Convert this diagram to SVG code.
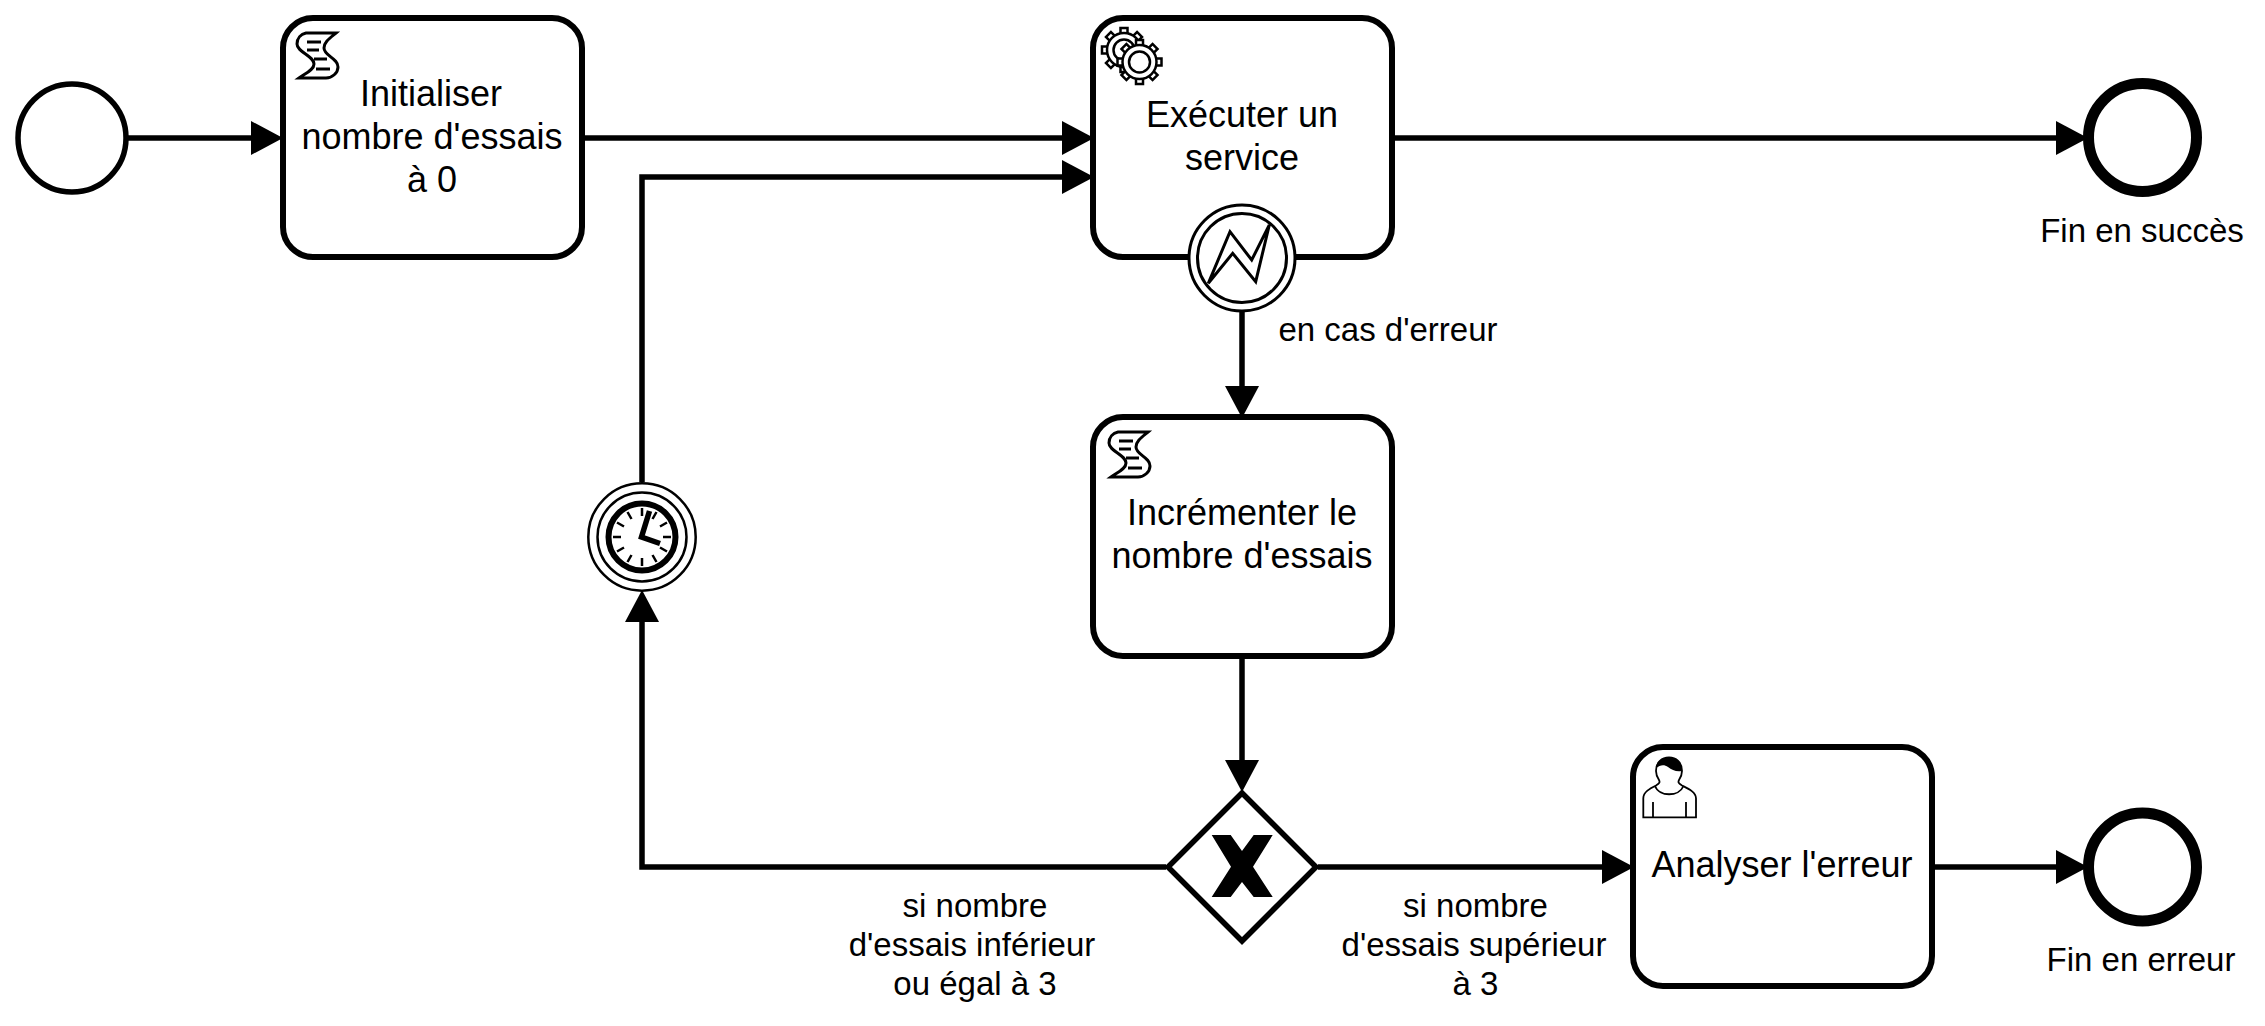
<svg xmlns="http://www.w3.org/2000/svg" xmlns:xlink="http://www.w3.org/1999/xlink" width="2265" height="1026" viewBox="0 0 2265 1026">
<style>
text{font-family:"Liberation Sans",Arial,sans-serif;fill:#000;text-anchor:middle}
.t{font-size:36px}
.l{font-size:33px}
.task{fill:#fff;stroke:#000;stroke-width:6}
.flow{fill:none;stroke:#000;stroke-width:5.5}
.thin{fill:#fff;stroke:#000;stroke-width:3}
.ln{fill:none;stroke:#000;stroke-width:3}
</style>
<defs>
<marker id="arrow" markerUnits="userSpaceOnUse" markerWidth="34" markerHeight="36" viewBox="0 0 34 36" refX="20" refY="18" orient="auto">
<path d="M0 1 L32 18 L0 35 Z" fill="#000"/>
</marker>
<g id="script">
<path class="thin" d="M306 33H336C330 38 324 42 324 48C324 56 338 58 338 67C338 73 332 78 326 78H299C306 73 314 70 314 64C314 56 297 52 297 44C297 38 301 34 306 33Z"/>
<path class="ln" d="M307 42H321M307 50H319M314 59H327M316 69H330"/>
</g>
<rect id="tooth" x="-3.5" y="-22" width="7" height="10" fill="#fff" stroke="#000" stroke-width="2.5"/>
<g id="gear">
<use xlink:href="#tooth" href="#tooth"/>
<use xlink:href="#tooth" href="#tooth" transform="rotate(45)"/>
<use xlink:href="#tooth" href="#tooth" transform="rotate(90)"/>
<use xlink:href="#tooth" href="#tooth" transform="rotate(135)"/>
<use xlink:href="#tooth" href="#tooth" transform="rotate(180)"/>
<use xlink:href="#tooth" href="#tooth" transform="rotate(225)"/>
<use xlink:href="#tooth" href="#tooth" transform="rotate(270)"/>
<use xlink:href="#tooth" href="#tooth" transform="rotate(315)"/>
<circle r="17" fill="#fff" stroke="#000" stroke-width="2.5"/>
<circle r="10.5" fill="#fff" stroke="#000" stroke-width="2.5"/>
</g>
</defs>

<g id="connectors">
<path class="flow" marker-end="url(#arrow)" d="M128 138H271"/>
<path class="flow" marker-end="url(#arrow)" d="M584 138H1082"/>
<path class="flow" marker-end="url(#arrow)" d="M642 482V177H1082"/>
<path class="flow" marker-end="url(#arrow)" d="M1395 138H2076"/>
<path class="flow" marker-end="url(#arrow)" d="M1242 312V406"/>
<path class="flow" marker-end="url(#arrow)" d="M1242 659V780"/>
<path class="flow" marker-end="url(#arrow)" d="M1166 867H642V602"/>
<path class="flow" marker-end="url(#arrow)" d="M1318 867H1622"/>
<path class="flow" marker-end="url(#arrow)" d="M1935 867H2076"/>
<text class="l" x="1388" y="341">en cas d'erreur</text>
<text class="l"><tspan x="975" y="917">si nombre</tspan><tspan x="972" y="956">d'essais inférieur</tspan><tspan x="975" y="995">ou égal à 3</tspan></text>
<text class="l"><tspan x="1475.500" y="917">si nombre</tspan><tspan x="1474" y="956">d'essais supérieur</tspan><tspan x="1475.500" y="995">à 3</tspan></text>
</g>

<g id="start">
<circle cx="72" cy="138" r="54" fill="#fff" stroke="#000" stroke-width="5.5"/>
</g>

<g id="task-init">
<rect class="task" x="283" y="18" width="299" height="239" rx="30"/>
<use xlink:href="#script" href="#script"/>
<text class="t"><tspan x="431" y="106">Initialiser</tspan><tspan x="432" y="149">nombre d'essais</tspan><tspan x="432" y="192">à 0</tspan></text>
</g>

<g id="task-service">
<rect class="task" x="1093" y="18" width="299" height="239" rx="30"/>
<use xlink:href="#gear" href="#gear" x="1124" y="50"/>
<use xlink:href="#gear" href="#gear" x="1139.5" y="62"/>
<text class="t"><tspan x="1242" y="127">Exécuter un</tspan><tspan x="1242" y="170">service</tspan></text>
</g>

<g id="boundary-error">
<circle cx="1242" cy="258" r="53" class="thin"/>
<circle cx="1242" cy="258" r="44.5" class="thin"/>
<path class="thin" d="M1208.3 283.3L1230 231.7L1251.7 260L1269.3 225L1255.7 281.7L1232.7 253.3Z"/>
</g>

<g id="task-increment">
<rect class="task" x="1093" y="417" width="299" height="239" rx="30"/>
<use xlink:href="#script" href="#script" x="812" y="399"/>
<text class="t"><tspan x="1242" y="525">Incrémenter le</tspan><tspan x="1242" y="568">nombre d'essais</tspan></text>
</g>

<g id="gateway">
<path fill="#fff" stroke="#000" stroke-width="5.5" d="M1242 793L1316 867L1242 941L1168 867Z"/>
<path fill="#000" d="M1211.7 835H1230.700L1242 851L1253.700 835H1272.7L1253 866.700L1272.7 897H1253.700L1242 882L1230.700 897H1211.700L1231 866.700Z"/>
</g>

<g id="timer">
<circle cx="642" cy="537" r="53.7" fill="#fff" stroke="#000" stroke-width="2.5"/>
<circle cx="642" cy="537" r="44.5" fill="#fff" stroke="#000" stroke-width="2.5"/>
<circle cx="642" cy="537" r="33.500" fill="#fff" stroke="#000" stroke-width="6"/>
<path fill="none" stroke="#000" stroke-width="2.500" d="M642 508V516M656.5 512L652.5 519M667 522.5L660 526.5M671 537H663M667 551.500L660 547.500M656.500 562L652.500 555M642 566V558M627.500 562L631.500 555M617 551.500L624 547.500M613 537H621M617 522.500L624 526.500M627.500 512L631.500 519"/>
<path fill="none" stroke="#000" stroke-width="5.500" d="M649.500 511L641.500 537L660 543.500"/>
</g>

<g id="task-analyse">
<rect class="task" x="1633" y="747" width="299" height="239" rx="30"/>
<path fill="#fff" stroke="#000" stroke-width="1.800" d="M1643.300 817.300V798.300C1643.300 792 1650 788.500 1656 785.500C1660 783 1660 782 1659 780C1657 777 1656 774 1656 771C1656 762 1662 757.500 1669 757.500C1676 757.500 1682 762 1682 771C1682 774 1681 777 1679 780C1678 782 1678 783 1682 785.500C1688 788.500 1696 792 1696 798.300V817.300Z"/>
<path fill="none" stroke="#000" stroke-width="1.800" d="M1655 786C1659 797 1679 797 1683.500 786M1653 802V817M1686 802V817"/>
<path fill="#000" d="M1656 768C1656 762 1662 757.500 1669 757.500C1676 757.500 1682 762 1682 771C1676 772 1672 770 1668 767C1664 764 1660 765 1656 768Z"/>
<text class="t" x="1782" y="877">Analyser l'erreur</text>
</g>

<g id="end-success">
<circle cx="2142.500" cy="137.500" r="54" fill="#fff" stroke="#000" stroke-width="11"/>
<text class="l" x="2142" y="242">Fin en succès</text>
</g>

<g id="end-error">
<circle cx="2142.500" cy="867" r="54" fill="#fff" stroke="#000" stroke-width="11"/>
<text class="l" x="2141" y="971">Fin en erreur</text>
</g>
</svg>
